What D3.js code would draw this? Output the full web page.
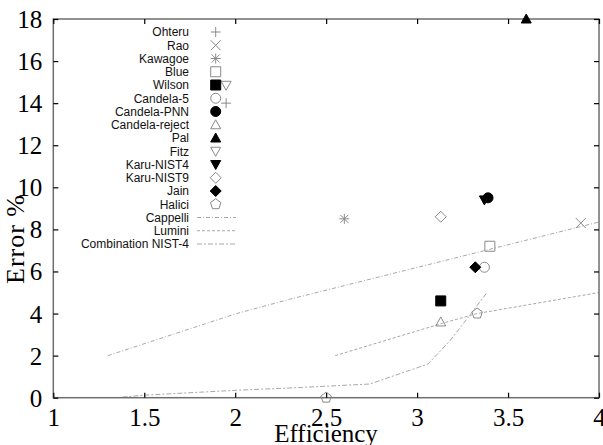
<!DOCTYPE html>
<html>
<head>
<meta charset="utf-8">
<script src="https://cdn.jsdelivr.net/npm/d3@7"></script>
<style>
  body { margin: 0; background: #fff; }
  svg { display: block; }
</style>
</head>
<body>
<svg></svg>
<script>
// point series: [efficiency, error %]
const ohteru = [[1.95, 14.0]];
const rao = [[3.9, 8.3]];
const kawagoe = [[2.6, 8.5]];
const blue = [[3.4, 7.2]];
const wilson = [[3.13, 4.6]];
const candela5 = [[3.37, 6.2]];
const candelaPNN = [[3.39, 9.5]];
const candelaReject = [[3.13, 3.6]];
const pal = [[3.6, 18.0]];
const fitz = [[1.95, 14.85]];
const karuNIST4 = [[3.37, 9.4]];
const karuNIST9 = [[3.13, 8.6]];
const jain = [[3.32, 6.2]];
const halici = [[3.33, 4.0], [2.5, 0.0]];

// line series
const cappelli = [[1.3, 2.0], [2.0, 3.98], [2.3, 4.68], [4.0, 8.35]];
const lumini = [[2.55, 2.0], [3.14, 3.54], [3.33, 4.0], [4.0, 5.0]];
const combination = [[1.38, 0.03], [1.5, 0.12], [2.0, 0.35], [2.37, 0.49], [2.74, 0.65],
  [3.06, 1.6], [3.18, 2.7], [3.27, 3.7], [3.38, 4.95]];

const xTicks = [1, 1.5, 2, 2.5, 3, 3.5, 4];
const yTicks = [0, 2, 4, 6, 8, 10, 12, 14, 16, 18];

const svgWidth = 603;
const svgHeight = 445;
const plotLeft = 53.3, plotRight = 599, plotTop = 19, plotBottom = 397.7;

const svg = d3.select("svg")
  .attr("width", svgWidth)
  .attr("height", svgHeight);

const xScale = d3.scaleLinear().domain([1, 4]).range([plotLeft, plotRight]);
const yScale = d3.scaleLinear().domain([0, 18]).range([plotBottom, plotTop]);

const grey = "#8a8a8a";
const lineGrey = "#a8a8a8";

// marker shapes, drawn around (0,0)
const shapes = {
  plus: "M-5,0H5M0,-5V5",
  cross: "M-5,-5L5,5M-5,5L5,-5",
  star: "M-5,0H5M0,-5V5M-4,-4L4,4M-4,4L4,-4",
  square: "M-5,-5H5V5H-5Z",
  circle: "M5,0A5,5 0 1,1 -5,0A5,5 0 1,1 5,0Z",
  triUp: "M0,-5L5,4H-5Z",
  triDown: "M0,5L5,-4H-5Z",
  diamond: "M0,-5.5L5.5,0L0,5.5L-5.5,0Z",
  pentagon: d3.range(5).map((i) => {
    const a = -Math.PI / 2 + i * 2 * Math.PI / 5;
    return (i ? "L" : "M") + (5.5 * Math.cos(a)).toFixed(2) + "," + (5.5 * Math.sin(a)).toFixed(2);
  }).join("") + "Z"
};

const pointSeries = [
  { name: "Ohteru", data: ohteru, shape: "plus", fill: false },
  { name: "Rao", data: rao, shape: "cross", fill: false },
  { name: "Kawagoe", data: kawagoe, shape: "star", fill: false },
  { name: "Blue", data: blue, shape: "square", fill: false },
  { name: "Wilson", data: wilson, shape: "square", fill: true },
  { name: "Candela-5", data: candela5, shape: "circle", fill: false },
  { name: "Candela-PNN", data: candelaPNN, shape: "circle", fill: true },
  { name: "Candela-reject", data: candelaReject, shape: "triUp", fill: false },
  { name: "Pal", data: pal, shape: "triUp", fill: true },
  { name: "Fitz", data: fitz, shape: "triDown", fill: false },
  { name: "Karu-NIST4", data: karuNIST4, shape: "triDown", fill: true },
  { name: "Karu-NIST9", data: karuNIST9, shape: "diamond", fill: false },
  { name: "Jain", data: jain, shape: "diamond", fill: true },
  { name: "Halici", data: halici, shape: "pentagon", fill: false }
];

const lineSeries = [
  { name: "Cappelli", data: cappelli, dash: "4,2,1,2" },
  { name: "Lumini", data: lumini, dash: "3,2" },
  { name: "Combination NIST-4", data: combination, dash: "5,2,2,2" }
];

function styleMarker(sel, s) {
  sel.attr("d", shapes[s.shape])
    .attr("fill", s.fill ? "#000" : "none")
    .attr("stroke", s.fill ? "#000" : grey)
    .attr("stroke-width", 1);
}

// lines
const line = d3.line().x((d) => xScale(d[0])).y((d) => yScale(d[1]));
lineSeries.forEach((s) => {
  svg.append("path")
    .datum(s.data)
    .attr("d", line)
    .attr("fill", "none")
    .attr("stroke", lineGrey)
    .attr("stroke-width", 1)
    .attr("stroke-dasharray", s.dash);
});

// frame
svg.append("rect")
  .attr("x", plotLeft).attr("y", plotTop)
  .attr("width", plotRight - plotLeft).attr("height", plotBottom - plotTop)
  .attr("fill", "none")
  .attr("stroke", "#6e6e6e")
  .attr("stroke-width", 1.5);

// ticks (inward, on all four sides)
const tickFont = "'Liberation Serif', 'DejaVu Serif', serif";
const xb = d3.axisBottom(xScale).tickValues(xTicks).tickSize(-5).tickPadding(13).tickFormat(d3.format("~g"));
const gx = svg.append("g").attr("transform", "translate(0," + plotBottom + ")").call(xb);
const gxt = svg.append("g").attr("transform", "translate(0," + plotTop + ")")
  .call(d3.axisTop(xScale).tickValues(xTicks).tickSize(-5).tickFormat(""));
const yl = d3.axisLeft(yScale).tickValues(yTicks).tickSize(-5).tickPadding(11);
const gy = svg.append("g").attr("transform", "translate(" + plotLeft + ",0)").call(yl);
const gyr = svg.append("g").attr("transform", "translate(" + plotRight + ",0)")
  .call(d3.axisRight(yScale).tickValues(yTicks).tickSize(-5).tickFormat(""));

[gx, gxt, gy, gyr].forEach((g) => {
  g.select(".domain").remove();
  g.selectAll(".tick line").attr("stroke", "#000").attr("stroke-width", 1.2);
  g.selectAll("text").attr("font-family", tickFont).attr("font-size", 25).attr("fill", "#000");
});
gx.selectAll("text").attr("dy", "0.62em");
gy.selectAll("text").attr("dy", "0.34em");

// points
pointSeries.forEach((s) => {
  svg.selectAll(null)
    .data(s.data)
    .enter()
    .append("path")
    .attr("transform", (d) => "translate(" + xScale(d[0]) + "," + yScale(d[1]) + ")")
    .call(styleMarker, s);
});

// legend
const legendX = 189, legendY = 32, legendStep = 13.25, symX = 215.7;
const legend = svg.append("g").attr("font-family", "'Liberation Sans', Arial, sans-serif").attr("font-size", 12);

pointSeries.forEach((s, i) => {
  const y = legendY + i * legendStep;
  legend.append("text")
    .attr("x", legendX).attr("y", y).attr("dy", "0.36em")
    .attr("text-anchor", "end").attr("fill", "#111")
    .text(s.name);
  legend.append("path")
    .attr("transform", "translate(" + symX + "," + y + ")")
    .call(styleMarker, s);
});

lineSeries.forEach((s, i) => {
  const y = legendY + (pointSeries.length + i) * legendStep;
  legend.append("text")
    .attr("x", legendX).attr("y", y).attr("dy", "0.36em")
    .attr("text-anchor", "end").attr("fill", "#111")
    .text(s.name);
  legend.append("line")
    .attr("x1", 197).attr("x2", 236).attr("y1", y).attr("y2", y)
    .attr("stroke", lineGrey).attr("stroke-width", 1)
    .attr("stroke-dasharray", s.dash);
});

// axis titles
svg.append("text")
  .attr("x", 326).attr("y", 442)
  .attr("text-anchor", "middle")
  .attr("font-family", tickFont).attr("font-size", 25)
  .text("Efficiency");

svg.append("text")
  .attr("transform", "translate(24,239) rotate(-90)")
  .attr("text-anchor", "middle")
  .attr("font-family", tickFont).attr("font-size", 26)
  .attr("letter-spacing", 1)
  .text("Error %");
</script>
</body>
</html>
